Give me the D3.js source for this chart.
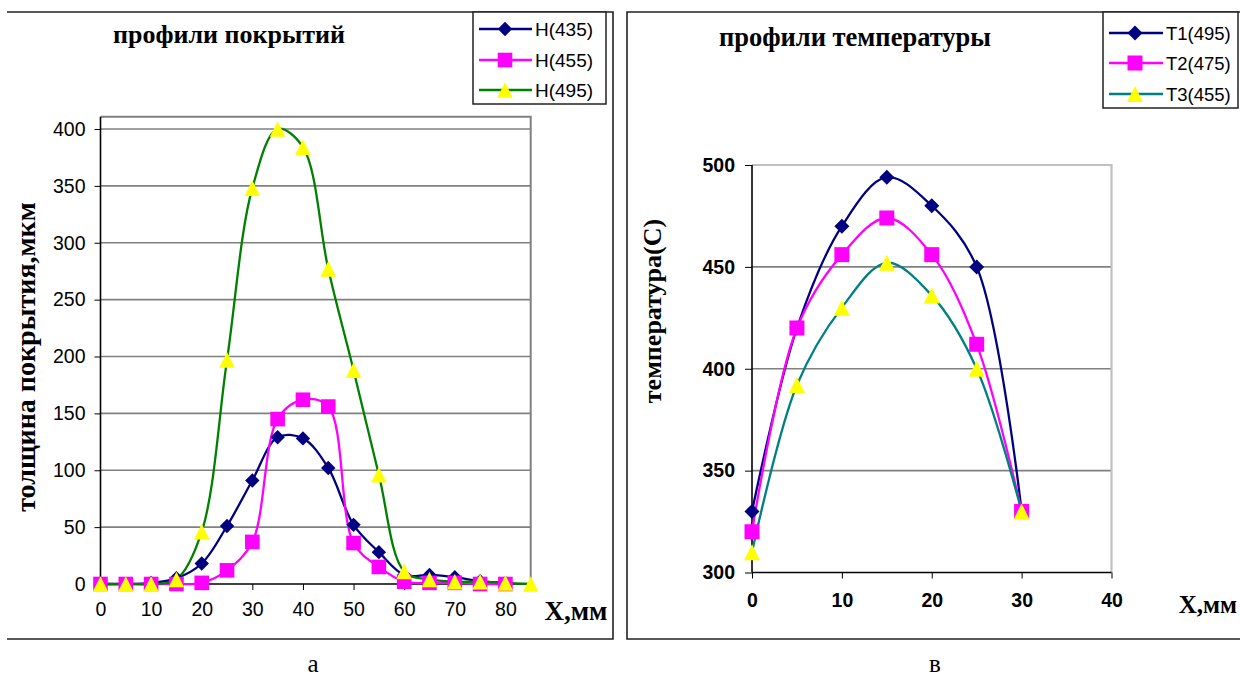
<!DOCTYPE html>
<html><head><meta charset="utf-8">
<script src="https://cdn.jsdelivr.net/npm/d3@7/dist/d3.min.js"></script>
<style>body{margin:0;background:#fff}svg{display:block}</style>
</head><body>
<svg id="c" width="1240" height="681"></svg>
<script>
// ---- data ----
const xCoat = [0,5,10,15,20,25,30,35,40,45,50,55,60,65,70,75,80,85];
const H435 = [0,0,1,5,18,51,91,129,128,102,52,28,8,8,6,2.5,1];
const H455 = [0,0,0,0,1,12,37,145,162,156,36,15,2,1,1,0,0];
const H495 = [0,0,0,4,46,197,348,400,384,277,188,96,11,4,2,2,1,0];
const coatNames = ["H(435)","H(455)","H(495)"];
const coatXTicks = [0,10,20,30,40,50,60,70,80];
const coatYTicks = [0,50,100,150,200,250,300,350,400];

const xTemp = [0,5,10,15,20,25,30];
const T1 = [330,420,470,494,480,450,330];
const T2 = [320,420,456,474,456,412,330];
const T3 = [310,392,430,452,436,400,330];
const tempNames = ["T1(495)","T2(475)","T3(455)"];
const tempXTicks = [0,10,20,30,40];
const tempYTicks = [300,350,400,450,500];

const SANS = "'Liberation Sans', Arial, sans-serif";
const SERIF = "'Liberation Serif', 'Times New Roman', serif";

const svg = d3.select("#c");

// marker shapes (Excel-like), size = half extent
const diamond = {draw(c,r){c.moveTo(0,-r);c.lineTo(r,0);c.lineTo(0,r);c.lineTo(-r,0);c.closePath();}};
const square = {draw(c,r){c.rect(-r,-r,2*r,2*r);}};
const triangle = {draw(c,r){c.moveTo(0,-r);c.lineTo(r,r);c.lineTo(-r,r);c.closePath();}};

function drawMarker(g, type, fill, x, y, r){
  g.append("path").attr("d", d3.symbol().type(type).size(r)()).attr("transform",`translate(${x},${y})`).attr("fill",fill);
}

// ===== Left chart =====
(function(){
  const x = d3.scaleLinear().domain([0,85]).range([100.5,530.7]);
  const y = d3.scaleLinear().domain([0,400]).range([584,129]);
  const top = 116.7;
  const g = svg.append("g");
  g.append("path").attr("d","M7,12H613V639H7").attr("fill","none").attr("stroke","#222").attr("stroke-width",1.6);
  g.selectAll(".gl").data(coatYTicks.filter(d=>d>0)).join("line")
    .attr("x1",x(0)).attr("x2",x(85)).attr("y1",d=>y(d)).attr("y2",d=>y(d))
    .attr("stroke","#808080").attr("stroke-width",1.6);
  g.append("path").attr("d",`M${x(0)},${top}H${x(85)}V${y(0)}`).attr("fill","none").attr("stroke","#808080").attr("stroke-width",2);
  const ya = g.append("g").attr("transform",`translate(${x(0)},0)`)
    .call(d3.axisLeft(y).tickValues(coatYTicks).tickSize(6).tickPadding(9).tickFormat(d3.format("d")));
  ya.select(".domain").attr("d",`M0,${top}V${y(0)}`).attr("stroke","#000").attr("stroke-width",1.6);
  ya.selectAll("text").attr("font-family",SANS).attr("font-size",19.5).attr("fill","#000");
  const xa = g.append("g").attr("transform",`translate(0,${y(0)})`)
    .call(d3.axisBottom(x).tickValues(coatXTicks).tickSize(6).tickPadding(12).tickFormat(d3.format("d")));
  xa.select(".domain").attr("d",`M${x(0)},0H${x(85)}`).attr("stroke","#000").attr("stroke-width",1.6);
  xa.selectAll("text").attr("font-family",SANS).attr("font-size",19.5).attr("fill","#000");
  const series = [
    {v:H435, color:"#000080", fill:"#000080", type:diamond, r:7.2},
    {v:H455, color:"#FF00FF", fill:"#FF00FF", type:square, r:7.3},
    {v:H495, color:"#008000", fill:"#FFFF00", type:triangle, r:7.8}
  ];
  const line = d3.line().curve(d3.curveCatmullRom.alpha(0.5));
  series.forEach(s=>{
    const pts = s.v.map((v,i)=>[x(xCoat[i]),y(v)]);
    g.append("path").attr("d",line(pts)).attr("fill","none").attr("stroke",s.color).attr("stroke-width",2.3);
  });
  series.forEach(s=>{
    s.v.forEach((v,i)=>drawMarker(g,s.type,s.fill,x(xCoat[i]),y(v),s.r));
  });
  g.append("rect").attr("x",473).attr("y",12).attr("width",133).attr("height",92).attr("fill","#fff").attr("stroke","#222").attr("stroke-width",1.5);
  const ly = [29,60,90];
  series.forEach((s,i)=>{
    g.append("line").attr("x1",479).attr("x2",532).attr("y1",ly[i]).attr("y2",ly[i]).attr("stroke",s.color).attr("stroke-width",2.3);
    drawMarker(g,s.type,s.fill,505,ly[i],s.r);
    g.append("text").attr("x",535).attr("y",ly[i]).attr("dy","0.36em").attr("font-family",SANS).attr("font-size",19).text(coatNames[i]);
  });
  g.append("text").attr("x",229).attr("y",35).attr("dy","0.3em").attr("text-anchor","middle").attr("font-family",SERIF).attr("font-weight","bold").attr("font-size",26).text("профили покрытий");
  g.append("text").attr("transform","translate(27,357) rotate(-90)").attr("dy","0.3em").attr("text-anchor","middle").attr("font-family",SERIF).attr("font-weight","bold").attr("font-size",28).text("толщина покрытия,мкм");
  g.append("text").attr("x",576).attr("y",612).attr("dy","0.3em").attr("text-anchor","middle").attr("font-family",SERIF).attr("font-weight","bold").attr("font-size",27).text("X,мм");
  g.append("text").attr("x",313).attr("y",664).attr("dy","0.3em").attr("text-anchor","middle").attr("font-family",SERIF).attr("font-size",25).text("а");
})();

// ===== Right chart =====
(function(){
  const x = d3.scaleLinear().domain([0,40]).range([752,1111.5]);
  const y = d3.scaleLinear().domain([300,500]).range([572.5,165]);
  const g = svg.append("g");
  g.append("path").attr("d","M1242,12H627V639H1242").attr("fill","none").attr("stroke","#222").attr("stroke-width",1.6);
  g.selectAll(".gl").data(tempYTicks.filter(d=>d>300&&d<500)).join("line")
    .attr("x1",x(0)).attr("x2",x(40)).attr("y1",d=>y(d)).attr("y2",d=>y(d))
    .attr("stroke","#808080").attr("stroke-width",1.6);
  g.append("path").attr("d",`M${x(0)},${y(500)}H${x(40)}V${y(300)}`).attr("fill","none").attr("stroke","#c0c0c0").attr("stroke-width",2.2);
  const ya = g.append("g").attr("transform",`translate(${x(0)},0)`)
    .call(d3.axisLeft(y).tickValues(tempYTicks).tickSize(7).tickPadding(10).tickFormat(d3.format("d")));
  ya.select(".domain").attr("d",`M0,${y(500)}V${y(300)}`).attr("stroke","#000").attr("stroke-width",1.6);
  ya.selectAll("text").attr("font-family",SANS).attr("font-weight","bold").attr("font-size",19.5).attr("fill","#000");
  const xa = g.append("g").attr("transform",`translate(0,${y(300)})`)
    .call(d3.axisBottom(x).tickValues(tempXTicks).tickSize(6).tickPadding(15).tickFormat(d3.format("d")));
  xa.select(".domain").attr("d",`M${x(0)},0H${x(40)}`).attr("stroke","#000").attr("stroke-width",1.6);
  xa.selectAll("text").attr("font-family",SANS).attr("font-weight","bold").attr("font-size",19.5).attr("fill","#000");
  const series = [
    {v:T1, color:"#000080", fill:"#000080", type:diamond, r:7.5},
    {v:T2, color:"#FF00FF", fill:"#FF00FF", type:square, r:7.5},
    {v:T3, color:"#008080", fill:"#FFFF00", type:triangle, r:8}
  ];
  const line = d3.line().curve(d3.curveCatmullRom.alpha(0.5));
  series.forEach(s=>{
    const pts = s.v.map((v,i)=>[x(xTemp[i]),y(v)]);
    g.append("path").attr("d",line(pts)).attr("fill","none").attr("stroke",s.color).attr("stroke-width",2.3);
  });
  series.forEach(s=>{
    s.v.forEach((v,i)=>drawMarker(g,s.type,s.fill,x(xTemp[i]),y(v),s.r));
  });
  g.append("rect").attr("x",1103).attr("y",12).attr("width",135).attr("height",96).attr("fill","#fff").attr("stroke","#222").attr("stroke-width",1.5);
  const ly = [33,63,94];
  series.forEach((s,i)=>{
    g.append("line").attr("x1",1109).attr("x2",1163).attr("y1",ly[i]).attr("y2",ly[i]).attr("stroke",s.color).attr("stroke-width",2.3);
    drawMarker(g,s.type,s.fill,1135,ly[i],s.r);
    g.append("text").attr("x",1166).attr("y",ly[i]).attr("dy","0.36em").attr("font-family",SANS).attr("font-size",18.5).text(tempNames[i]);
  });
  g.append("text").attr("x",855).attr("y",38).attr("dy","0.3em").attr("text-anchor","middle").attr("font-family",SERIF).attr("font-weight","bold").attr("font-size",26.5).text("профили температуры");
  g.append("text").attr("transform","translate(653,311) rotate(-90)").attr("dy","0.3em").attr("text-anchor","middle").attr("font-family",SERIF).attr("font-weight","bold").attr("font-size",26).text("температура(C)");
  g.append("text").attr("x",1237).attr("y",605).attr("dy","0.3em").attr("text-anchor","end").attr("font-family",SERIF).attr("font-weight","bold").attr("font-size",25).text("X,мм");
  g.append("text").attr("x",935).attr("y",664).attr("dy","0.3em").attr("text-anchor","middle").attr("font-family",SERIF).attr("font-size",25).text("в");
})();
</script>
</body></html>
